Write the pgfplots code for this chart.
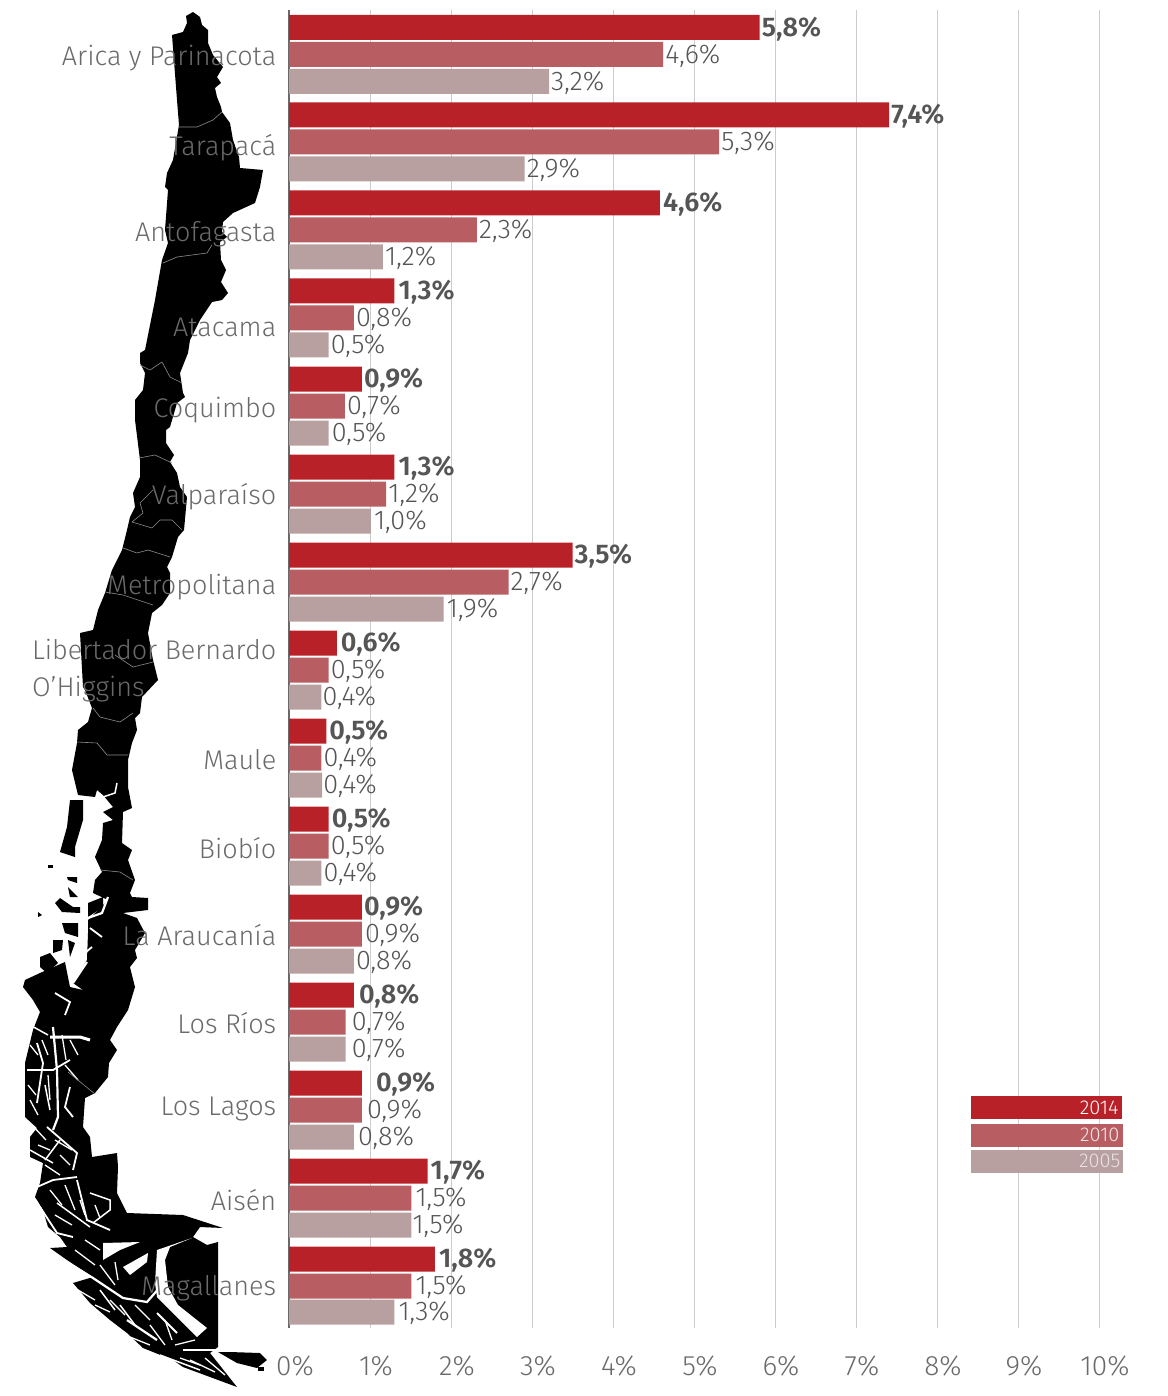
\documentclass[border=0pt]{standalone}
\usepackage{fontspec}
\setmainfont{Fira Sans Light}[BoldFont={Fira Sans SemiBold}]
\usepackage{pgfplots}
\usepackage{pgfplotstable}
\pgfplotsset{compat=1.18}
\definecolor{cA}{HTML}{B92128}
\definecolor{cB}{HTML}{B85E62}
\definecolor{cC}{HTML}{B8A0A0}
\definecolor{txt}{HTML}{6A6A6A}
\definecolor{val}{HTML}{555555}
\pgfplotstableread{
x y lab dx
5.81 27.5 5,8 2
7.41 115 7,4 2
4.58 203 4,6 3
1.30 291 1,3 4
0.90 379 0,9 2
1.30 467 1,3 4
3.50 555 3,5 2
0.59 643 0,6 4
0.46 731 0,5 3
0.49 819 0,5 3
0.90 907 0,9 2
0.80 995 0,8 5
0.90 1083 0,9 14
1.71 1171 1,7 3
1.80 1259 1,8 4
}\seriesA
\pgfplotstableread{
x y lab dx
4.62 54.5 4,6 2
5.31 142 5,3 2
2.32 230 2,3 2
0.80 318 0,8 2
0.69 406 0,7 2
1.20 494 1,2 2
2.71 582 2,7 2
0.49 670 0,5 2
0.40 758 0,4 2
0.49 846 0,5 2
0.90 934 0,9 3
0.70 1022 0,7 6
0.90 1110 0,9 5
1.51 1198 1,5 4
1.51 1286 1,5 4
}\seriesB
\pgfplotstableread{
x y lab dx
3.21 81.5 3,2 2
2.91 169 2,9 2
1.16 257 1,2 2
0.49 345 0,5 2
0.49 433 0,5 3
1.01 521 1,0 3
1.91 609 1,9 3
0.40 697 0,4 1
0.41 785 0,4 1
0.40 873 0,4 2
0.80 961 0,8 2
0.70 1049 0,7 6
0.80 1137 0,8 4
1.51 1225 1,5 1
1.30 1312 1,3 4
}\seriesC
\begin{document}
\begin{tikzpicture}
\useasboundingbox (0pt,0pt) rectangle (1167pt,1396pt);
\begin{axis}[at={(0pt,0pt)},anchor=south west,scale only axis,width=1167pt,height=1396pt,
  xmin=0,xmax=1167,ymin=0,ymax=1396,y dir=reverse,hide axis,clip=true]
% mainland outline
\addplot[fill=black,draw=none] coordinates {
(193,12)(200,17)(202,25)(208,30)(208,43)(213,55)(223,67)(217,77)(221,83)(215,88)(217,97)(221,107)(222,112)(230,123)(233,140)(239,157)(240,168)(263,170)(260,187)(255,203)(233,213)(223,222)(222,232)(227,237)(220,242)(221,260)(226,270)(221,282)(228,293)(222,300)(212,302)(200,320)(190,340)
(188,353)(180,373)(183,393)(185,397)(177,403)(170,427)(166,430)(166,443)(174,455)(170,462)(177,473)(180,487)(187,497)(184,530)(178,537)(172,557)(167,567)(170,573)(170,593)(162,605)(152,613)(148,633)(153,660)(158,680)
(142,697)(140,713)(135,718)(137,730)(132,743)(128,760)(128,787)(132,808)(123,812)(122,843)(132,850)(128,860)(135,880)(130,893)(132,897)(148,898)(148,910)(123,913)(137,918)(145,933)(135,950)(137,958)(130,967)(135,987)(128,1010)(117,1027)
(110,1040)(117,1050)(109,1063)(108,1077)(95,1093)(85,1098)(83,1127)(90,1137)(92,1157)(117,1153)(118,1167)(117,1193)(127,1213)(183,1215)(223,1228)(200,1227)(193,1237)(207,1245)(218,1242)(218,1347)
(210,1353)(237,1387)(210,1377)(183,1367)(173,1360)(143,1348)(127,1333)(110,1320)(90,1303)(73,1283)(93,1277)(67,1260)(50,1248)(67,1247)(60,1237)(48,1227)(43,1210)(35,1197)(40,1183)(43,1163)(30,1157)(30,1137)(37,1128)(25,1117)(25,1063)(33,1030)
(40,1012)(33,1000)(23,987)(25,980)(40,973)(65,962)(70,987)(83,990)(73,983)(87,960)(88,933)(88,920)(108,900)(93,893)(95,880)(102,872)(95,857)(102,840)(103,823)(113,820)(103,812)(113,807)(103,795)(97,790)(95,797)(78,795)(72,770)(77,743)(78,730)(88,722)(92,708)(85,690)(83,687)(80,633)(93,630)(98,610)(105,593)(112,570)(122,550)(127,530)(130,517)(135,507)(133,493)(140,477)(140,460)(135,420)(135,400)(143,390)(145,373)(140,363)(140,353)(145,350)(155,300)(162,260)(168,243)(165,230)(168,190)(165,187)(167,173)(173,160)(179,125)(177,100)(172,35)(183,32)(187,23)(186,16)
} --cycle;
% Chiloe, Tierra del Fuego, islands
\addplot[fill=black,draw=none] coordinates {(70,800)(83,800)(83,820)(75,847)(75,857)(60,852)(67,827)} --cycle;
\addplot[fill=black,draw=none] coordinates {(230,1352)(260,1353)(267,1360)(257,1368)(237,1363)(218,1352)} --cycle;
\addplot[fill=black,draw=none] coordinates {(258,1367)(264,1367)(264,1371)(258,1371)} --cycle;
\addplot[fill=black,draw=none] coordinates {(48,865)(53,865)(53,868)(48,868)} --cycle;
\addplot[fill=black,draw=none] coordinates {(60,898)(73,907)(80,907)(80,913)(62,912)(55,903)} --cycle;
\addplot[fill=black,draw=none] coordinates {(67,877)(77,877)(77,883)(68,880)} --cycle;
\addplot[fill=black,draw=none] coordinates {(68,887)(78,897)(70,897)} --cycle;
\addplot[fill=black,draw=none] coordinates {(88,903)(103,897)(103,907)(88,917)} --cycle;
\addplot[fill=black,draw=none] coordinates {(62,923)(78,923)(78,937)(65,933)} --cycle;
\addplot[fill=black,draw=none] coordinates {(53,940)(63,940)(62,950)(53,953)} --cycle;
\addplot[fill=black,draw=none] coordinates {(68,940)(75,943)(70,957)} --cycle;
\addplot[fill=black,draw=none] coordinates {(40,957)(50,953)(58,963)(47,973)(40,967)} --cycle;
\addplot[fill=black,draw=none] coordinates {(38,912)(42,915)(38,917)} --cycle;
% fjords and channels
\addplot[fill=white,draw=none] coordinates {(103,1243)(140,1242)(120,1250)(103,1260)} --cycle;
\addplot[fill=white,draw=none] coordinates {(123,1267)(148,1253)(147,1262)(130,1275)} --cycle;
\addplot[fill=white,draw=none] coordinates {(192,1238)(170,1247)(165,1260)(168,1287)(178,1305)(207,1328)(197,1337)(170,1310)(157,1297)(155,1283)(157,1250)} --cycle;
\pgfplotsset{fj/.style={white,line width=#1,no markers}}
\addplot[fj=1.5pt] coordinates {(117,783)(115,793)(103,797)};
\addplot[fj=2.2pt] coordinates {(108,897)(102,913)(88,918)};
\addplot[fj=1.8pt] coordinates {(90,928)(102,937)};
\addplot[fj=1.8pt] coordinates {(92,947)(80,957)};
\addplot[fj=2.2pt] coordinates {(87,962)(73,983)};
\addplot[fj=2.2pt] coordinates {(53,1027)(57,1070)(58,1117)(53,1130)};
\addplot[fj=3pt] coordinates {(50,1037)(80,1037)(90,1040)};
\addplot[fj=1.8pt] coordinates {(70,1087)(65,1107)(73,1117)};
\addplot[fj=1.8pt] coordinates {(27,1070)(53,1070)(70,1060)};
\addplot[fj=1.8pt] coordinates {(37,1043)(43,1063)(37,1103)};
\addplot[fj=1.8pt] coordinates {(47,1127)(77,1153)(73,1170)};
\addplot[fj=1.8pt] coordinates {(37,1187)(53,1180)(77,1177)};
\addplot[fj=1.5pt] coordinates {(30,1150)(53,1163)};
\addplot[fj=1.8pt] coordinates {(77,1180)(87,1220)(110,1230)};
\addplot[fj=1.5pt] coordinates {(90,1193)(110,1200)(110,1210)(93,1223)};
\addplot[fj=1.8pt] coordinates {(40,1207)(57,1233)(73,1237)};
\addplot[fj=1.5pt] coordinates {(57,1203)(90,1227)};
\addplot[fj=2.2pt] coordinates {(50,1252)(93,1278)(123,1298)(147,1302)(160,1287)};
\addplot[fj=1.8pt] coordinates {(157,1313)(177,1333)};
\addplot[fj=2.2pt] coordinates {(183,1350)(217,1350)};
\addplot[fj=2.2pt] coordinates {(127,1320)(157,1340)};
\addplot[fj=1.8pt] coordinates {(55,993)(70,1002)(65,1015)};
\addplot[fj=1.5pt] coordinates {(45,1085)(50,1110)};
\addplot[fj=1.5pt] coordinates {(30,1025)(48,1035)};
\addplot[fj=1.5pt] coordinates {(100,1290)(115,1310)};
\addplot[fj=1.5pt] coordinates {(120,1305)(135,1325)};
\addplot[fj=1.5pt] coordinates {(160,1355)(200,1370)};
\addplot[fj=1.5pt] coordinates {(60,1140)(45,1160)};
\addplot[fj=1.3pt] coordinates {(30,1045)(38,1055)};
\addplot[fj=1.3pt] coordinates {(28,1085)(36,1095)};
\addplot[fj=1.3pt] coordinates {(30,1100)(38,1115)};
\addplot[fj=1.3pt] coordinates {(42,1040)(48,1055)};
\addplot[fj=1.3pt] coordinates {(62,1035)(66,1060)};
\addplot[fj=1.3pt] coordinates {(70,1040)(78,1055)};
\addplot[fj=1.3pt] coordinates {(48,1075)(50,1100)};
\addplot[fj=1.3pt] coordinates {(65,1065)(78,1080)};
\addplot[fj=1.3pt] coordinates {(32,1125)(46,1140)};
\addplot[fj=1.3pt] coordinates {(38,1145)(50,1150)};
\addplot[fj=1.3pt] coordinates {(55,1140)(72,1150)};
\addplot[fj=1.3pt] coordinates {(60,1155)(70,1165)};
\addplot[fj=1.3pt] coordinates {(45,1165)(60,1175)};
\addplot[fj=1.3pt] coordinates {(36,1200)(45,1215)};
\addplot[fj=1.3pt] coordinates {(50,1190)(62,1205)};
\addplot[fj=1.3pt] coordinates {(65,1185)(75,1210)};
\addplot[fj=1.3pt] coordinates {(55,1215)(72,1225)};
\addplot[fj=1.3pt] coordinates {(80,1200)(85,1215)};
\addplot[fj=1.3pt] coordinates {(95,1205)(100,1218)};
\addplot[fj=1.3pt] coordinates {(75,1250)(95,1265)};
\addplot[fj=1.3pt] coordinates {(85,1240)(100,1250)};
\addplot[fj=1.3pt] coordinates {(100,1265)(115,1285)};
\addplot[fj=1.3pt] coordinates {(115,1262)(118,1280)};
\addplot[fj=1.3pt] coordinates {(78,1290)(95,1300)};
\addplot[fj=1.3pt] coordinates {(95,1305)(110,1312)};
\addplot[fj=1.3pt] coordinates {(110,1300)(125,1315)};
\addplot[fj=1.3pt] coordinates {(135,1305)(150,1320)};
\addplot[fj=1.3pt] coordinates {(150,1325)(165,1345)};
\addplot[fj=1.3pt] coordinates {(125,1335)(150,1345)};
\addplot[fj=1.3pt] coordinates {(175,1345)(195,1340)};
\addplot[fj=1.3pt] coordinates {(165,1320)(172,1340)};
\addplot[fj=1.3pt] coordinates {(190,1360)(215,1372)};
\addplot[fj=1.3pt] coordinates {(205,1358)(225,1375)};
\addplot[fj=1.3pt] coordinates {(180,1358)(200,1365)};
% region borders
\pgfplotsset{rb/.style={color=black!45,line width=.6pt,no markers}}
\addplot[rb] coordinates {(179,127)(197,127)(213,120)(222,112)};
\addplot[rb] coordinates {(163,263)(177,257)(207,253)(212,245)};
\addplot[rb] coordinates {(140,365)(150,370)(162,362)(170,377)(182,383)};
\addplot[rb] coordinates {(139,458)(155,455)(172,463)};
\addplot[rb] coordinates {(153,490)(140,503)(143,513)(132,522)(152,528)(160,520)(172,520)(182,530)};
\addplot[rb] coordinates {(123,548)(137,553)(148,550)(170,557)};
\addplot[rb] coordinates {(105,592)(123,595)(153,605)};
\addplot[rb] coordinates {(115,655)(133,667)(153,662)};
\addplot[rb] coordinates {(93,708)(100,717)(120,722)(133,713)};
\addplot[rb] coordinates {(77,742)(97,743)(107,755)(128,755)};
\addplot[rb] coordinates {(100,870)(120,872)(133,880)};
\addplot[rb] coordinates {(68,1072)(95,1094)};
\end{axis}
\begin{axis}[at={(289pt,68pt)},anchor=south west,scale only axis,width=810pt,height=1318pt,
  xmin=0,xmax=10,ymin=10,ymax=1328,y dir=reverse,clip=false,
  axis x line*=bottom,axis y line*=left,
  x axis line style={draw=none},y axis line style={draw=txt,line width=2.4pt,-},
  major tick style={draw=none},
  xmajorgrids,grid style={draw=black!20,line width=1pt},
  xtick={0,1,2,3,4,5,6,7,8,9,10},
  xticklabels={0\%,1\%,2\%,3\%,4\%,5\%,6\%,7\%,8\%,9\%,10\%},
  xticklabel style={font=\fontsize{28}{28}\selectfont,text=txt,anchor=center,yshift=-38pt,xshift=6pt},
  ytick={58,148,234,327,410,497,587,671,760,848,935,1023,1109,1200,1288},
  yticklabels={Arica y Parinacota,Tarapacá,Antofagasta,Atacama,Coquimbo,Valparaíso,Metropolitana,{\begin{tabular}{@{}l@{}}Libertador Bernardo\\[1pt]O’Higgins\end{tabular}},Maule,Biobío,La Araucanía,Los Ríos,Los Lagos,Aisén,Magallanes},
  yticklabel style={font=\fontsize{27}{36}\selectfont,text=txt,anchor=east,xshift=-5pt},
  xbar,bar shift=0pt,bar width=25pt,
  vals/.style={draw=none,point meta=explicit symbolic,
    nodes near coords={\pgfplotspointmeta\%},
    visualization depends on={\thisrow{dx}\as\mydx},
    every node near coord/.append style={anchor=west,inner sep=0pt,xshift=\mydx pt,yshift=-1.5pt,text=val,font=\fontsize{27}{27}\selectfont #1}},
]
\addplot[fill=cA,vals=\bfseries] table[x=x,y=y,meta=lab] {\seriesA};
\addplot[fill=cB,vals=] table[x=x,y=y,meta=lab] {\seriesB};
\addplot[fill=cC,vals=] table[x=x,y=y,meta=lab] {\seriesC};
\node[fill=cA,anchor=west,minimum width=151pt,minimum height=23pt,inner sep=0pt,text=white,font=\fontsize{20}{20}\selectfont] at (axis cs:8.42,1107.5) {\hspace*{105pt}2014};
\node[fill=cB,anchor=west,minimum width=152pt,minimum height=23pt,inner sep=0pt,text=white!85!cB,font=\fontsize{20}{20}\selectfont] at (axis cs:8.42,1135) {\hspace*{105pt}2010};
\node[fill=cC,anchor=west,minimum width=152pt,minimum height=23pt,inner sep=0pt,text=white!70!cC,font=\fontsize{20}{20}\selectfont] at (axis cs:8.42,1161) {\hspace*{105pt}2005};
\end{axis}
\end{tikzpicture}
\end{document}
